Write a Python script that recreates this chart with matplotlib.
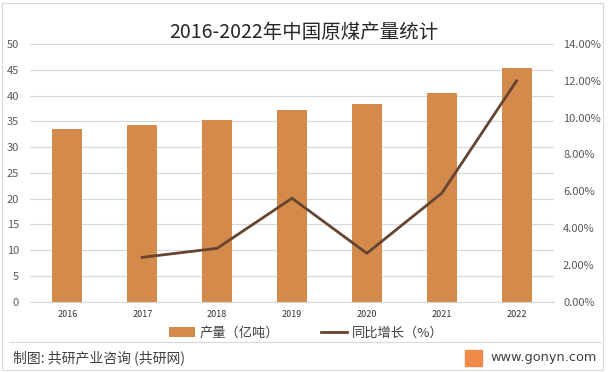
import numpy as np
import matplotlib
matplotlib.use('Agg')
from matplotlib import pyplot as plt
from matplotlib.lines import Line2D
from matplotlib.patches import Patch, Rectangle

plt.rcParams['font.family'] = ['Noto Sans CJK SC', 'DejaVu Sans']

years = ['2016', '2017', '2018', '2019', '2020', '2021', '2022']
output = [33.5, 34.3, 35.3, 37.2, 38.4, 40.5, 45.4]            # 产量（亿吨）
growth = [np.nan, 2.41, 2.90, 5.62, 2.63, 5.89, 12.0]          # 同比增长（%）

bar_color = '#D38A4B'
line_color = '#654530'
text_color = '#595959'

fig = plt.figure(figsize=(6.11, 3.72), dpi=100)
ax = fig.add_axes([30 / 611, (372 - 301.7) / 372, 524 / 611, (301.7 - 44) / 372])

x = np.arange(len(years))
ax.bar(x, output, width=0.4, color=bar_color, zorder=2)
ax.set_xlim(-0.5, len(years) - 0.5)
ax.set_ylim(0, 50)
ax.set_yticks(np.arange(0, 51, 5))
ax.grid(axis='y', color='#D9D9D9', linewidth=0.9, zorder=0)
for s in ax.spines.values():
    s.set_visible(False)
ax.spines['bottom'].set_visible(True)
ax.spines['bottom'].set_color('#D9D9D9')
ax.set_xticks(x)
ax.set_xticklabels(years, fontsize=6.5, color='#333333')
ax.tick_params(axis='x', length=0, pad=6)
ax.tick_params(axis='y', length=0, labelsize=8, labelcolor=text_color, pad=8)

ax2 = ax.twinx()
ax2.plot(x, growth, color=line_color, linewidth=2, zorder=3)
ax2.set_ylim(0, 14)
ax2.set_yticks(np.arange(0, 15, 2))
ax2.set_yticklabels(['%.2f%%' % v for v in np.arange(0, 15, 2)])
ax2.tick_params(axis='y', length=0, labelsize=8, labelcolor=text_color, pad=6.5)
for s in ax2.spines.values():
    s.set_visible(False)

fig.text(304 / 611, 1 - 33 / 372, '2016-2022年中国原煤产量统计', ha='center', va='center',
         fontsize=14, color='#262626')

handles = [Patch(facecolor=bar_color), Line2D([0], [0], color=line_color, linewidth=2)]
fig.legend(handles, ['产量（亿吨）', '同比增长（%）'], loc='center', bbox_to_anchor=(306 / 611, 1 - 333 / 372),
           ncol=2, frameon=False, fontsize=9.5, handlelength=2.0, handleheight=0.8,
           columnspacing=3.2, handletextpad=0.3, labelcolor='#404040')

# footer
fig.add_artist(Line2D([10 / 611, 601 / 611], [1 - 342 / 372] * 2, color='#D9D9D9', linewidth=0.8))
fig.text(13 / 611, 1 - 358 / 372, '制图: 共研产业咨询 (共研网)', ha='left', va='center',
         fontsize=10, color='#404040', fontweight='medium')
fig.add_artist(Rectangle((465 / 611, 1 - 366 / 372), 17 / 611, 16 / 372, color='#F08A4B'))
fig.text(597 / 611, 1 - 358 / 372, 'www.gonyn.com', ha='right', va='center',
         fontsize=9.3, color='#404040', family='DejaVu Sans')

# outer border
fig.add_artist(Rectangle((2 / 611, 2 / 372), 601 / 611, 367 / 372, fill=False,
                         edgecolor='#D9D9D9', linewidth=0.8))

fig.savefig('out.png', dpi=100)
